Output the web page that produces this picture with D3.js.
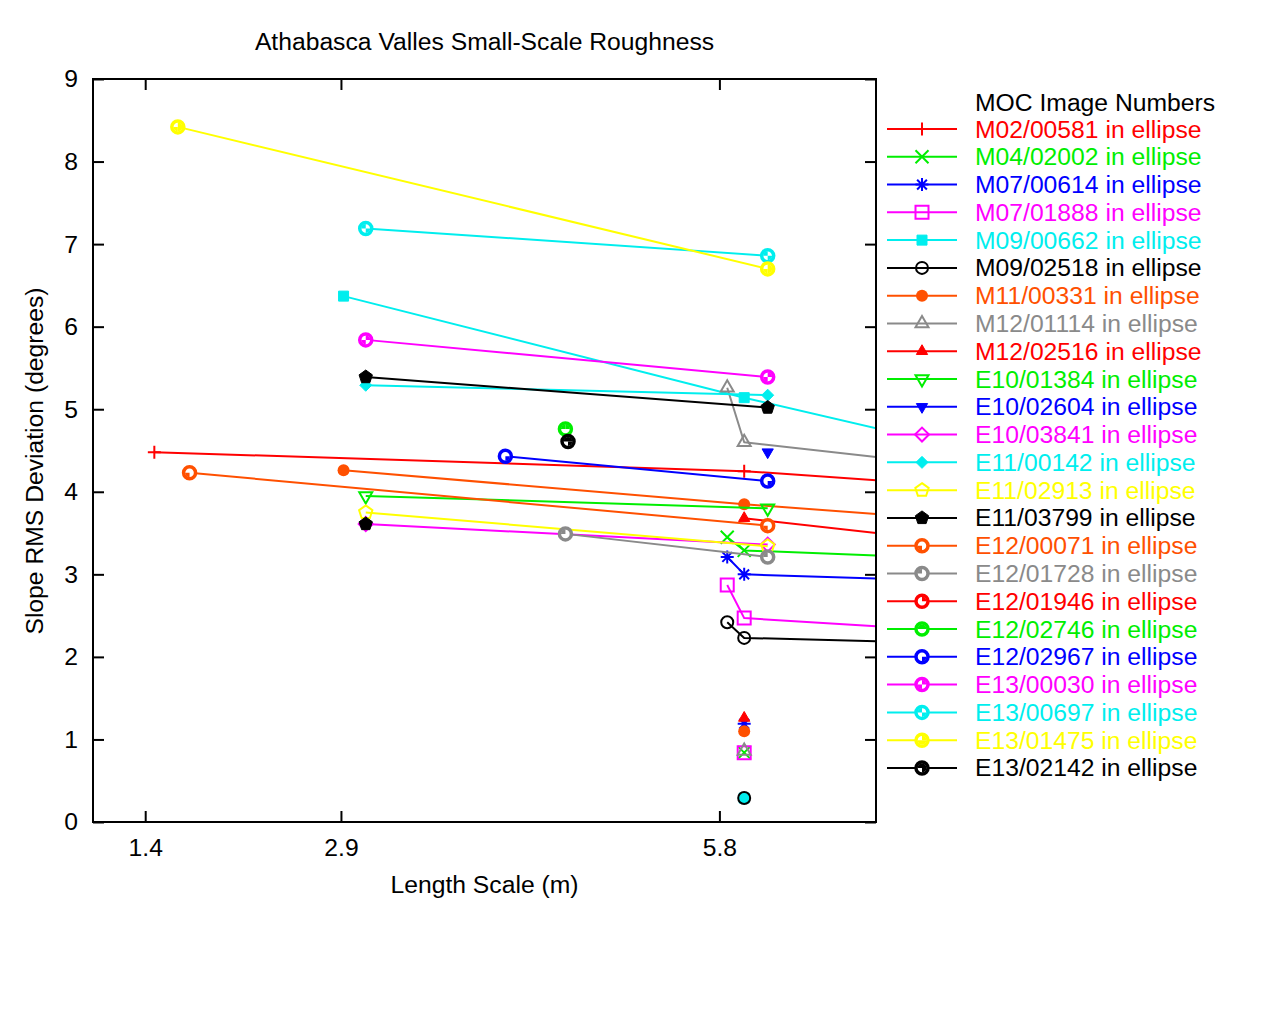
<!DOCTYPE html>
<html><head><meta charset="utf-8">
<script src="https://cdn.jsdelivr.net/npm/d3@7"></script>
<style>body{margin:0;background:#fff} text{font-family:"Liberation Sans",Arial,Helvetica,sans-serif}</style>
</head><body><svg id="c" width="1280" height="1024"></svg>
<script>
// ---------------- data ----------------
const chartTitle = "Athabasca Valles Small-Scale Roughness";
const xLabel = "Length Scale (m)";
const yLabel = "Slope RMS Deviation (degrees)";
const keyTitle = "MOC Image Numbers";
const xTicks = [1.4, 2.9, 5.8];
const yTicks = [0, 1, 2, 3, 4, 5, 6, 7, 8, 9];
const xDomain = [1, 7];
const yDomain = [0, 9];

const seriesNames = [
  "M02/00581","M04/02002","M07/00614","M07/01888","M09/00662","M09/02518",
  "M11/00331","M12/01114","M12/02516","E10/01384","E10/02604","E10/03841",
  "E11/00142","E11/02913","E11/03799","E12/00071","E12/01728","E12/01946",
  "E12/02746","E12/02967","E13/00030","E13/00697","E13/01475","E13/02142"
];
// [length scale, RMS deviation]; null = break in the line
const M02_00581 = [[1.47,4.48],[5.99,4.25],[12,3.60]];
const M04_02002 = [[5.99,0.84],null,[5.86,3.45],[5.99,3.29],[12,2.93]];
const M07_00614 = [[5.99,1.19],null,[5.86,3.21],[5.99,3.00],[12,2.70]];
const M07_01888 = [[5.99,0.84],null,[5.86,2.87],[5.99,2.47],[12,1.88]];
const M09_00662 = [[5.99,0.29],null,[2.92,6.37],[5.99,5.14],[12,2.94]];
const M09_02518 = [[5.99,0.29],null,[5.86,2.42],[5.99,2.23],[12,1.99]];
const M11_00331 = [[5.99,1.10],null,[2.92,4.26],[5.99,3.85],[12,3.14]];
const M12_01114 = [[5.99,0.86],null,[5.86,5.26],[5.99,4.60],[12,3.53]];
const M12_02516 = [[5.99,1.26],null,[5.99,3.68],[12,2.61]];
const E10_01384 = [[3.09,3.95],[6.17,3.80]];
const E10_02604 = [[6.17,4.48]];
const E10_03841 = [[3.09,3.61],[6.17,3.36]];
const E11_00142 = [[3.09,5.29],[6.17,5.17]];
const E11_02913 = [[3.09,3.75],[6.17,3.34]];
const E11_03799 = [[3.09,3.61],null,[3.09,5.39],[6.17,5.02]];
const E12_00071 = [[1.74,4.23],[6.17,3.59]];
const E12_01728 = [[4.62,3.49],[6.17,3.21]];
const E12_01946 = [];
const E12_02746 = [[4.62,4.76]];
const E12_02967 = [[4.16,4.43],[6.17,4.13]];
const E13_00030 = [[3.09,5.84],[6.17,5.39]];
const E13_00697 = [[3.09,7.19],[6.17,6.86]];
const E13_01475 = [[1.65,8.42],[6.17,6.70]];
const E13_02142 = [[4.64,4.61]];

const seriesValues = [M02_00581,M04_02002,M07_00614,M07_01888,M09_00662,M09_02518,
  M11_00331,M12_01114,M12_02516,E10_01384,E10_02604,E10_03841,E11_00142,E11_02913,
  E11_03799,E12_00071,E12_01728,E12_01946,E12_02746,E12_02967,E13_00030,E13_00697,
  E13_01475,E13_02142];

// ---------------- style ----------------
const RED="#ff0000", GRN="#00ee00", BLU="#0000ff", MAG="#ff00ff", CYN="#00eeee",
      YEL="#ffff00", BLK="#000000", ORG="#ff5000", GRY="#8a8a8a";
const seriesColors = [RED,GRN,BLU,MAG,CYN,BLK,ORG,GRY,RED,GRN,BLU,MAG,CYN,YEL,BLK,ORG,GRY,RED,GRN,BLU,MAG,CYN,YEL,BLK];
const seriesMarkers = d3.range(1, 25);
const ringMasks = {16:[0,0,1,0],17:[0,0,0,1],18:[1,0,0,0],19:[1,0,0,1],20:[0,1,0,0],
                   21:[1,0,1,0],22:[0,1,0,1],23:[1,1,1,0],24:[1,1,0,1]};

const W = 1280, H = 1024;
const plot = {left: 93, right: 876, top: 79, bottom: 822};
const FS = 24.7;

const svg = d3.select("#c");
svg.append("rect").attr("width", W).attr("height", H).attr("fill", "#fff");

const x = d3.scaleLinear().domain(xDomain).range([plot.left, plot.right]);
const y = d3.scaleLinear().domain(yDomain).range([plot.bottom, plot.top]);

svg.append("defs").append("clipPath").attr("id", "clip")
  .append("rect").attr("x", plot.left).attr("y", plot.top)
  .attr("width", plot.right - plot.left).attr("height", plot.bottom - plot.top);

function marker(g, t, c, cx, cy) {
  const s = 6.5;
  const sg = g.append("g").attr("transform", `translate(${cx},${cy})`);
  const line = (d) => sg.append("path").attr("d", d).attr("fill", "none").attr("stroke", c).attr("stroke-width", 2);
  const fill = (d) => sg.append("path").attr("d", d).attr("fill", c).attr("stroke", c).attr("stroke-width", 1);
  const poly = (n, r, rot) => "M" + d3.range(n).map(i => {
      const a = rot + i * 2 * Math.PI / n;
      return [r * Math.cos(a), r * Math.sin(a)].join(",");
    }).join("L") + "Z";
  switch (t) {
    case 1: line(`M${-s},0H${s}M0,${-s}V${s}`); break;
    case 2: line(`M${-s},${-s}L${s},${s}M${-s},${s}L${s},${-s}`); break;
    case 3: line(`M${-s},0H${s}M0,${-s}V${s}M${-s*0.75},${-s*0.75}L${s*0.75},${s*0.75}M${-s*0.75},${s*0.75}L${s*0.75},${-s*0.75}`); break;
    case 4: line(`M${-s},${-s}H${s}V${s}H${-s}Z`); break;
    case 5: fill(`M-5,-5H5V5H-5Z`); break;
    case 6: sg.append("circle").attr("r", 6).attr("fill", "none").attr("stroke", c).attr("stroke-width", 2); break;
    case 7: sg.append("circle").attr("r", 6).attr("fill", c); break;
    case 8: line(poly(3, 7.5, -Math.PI / 2)); break;
    case 9: fill(poly(3, 6.5, -Math.PI / 2)); break;
    case 10: line(poly(3, 7.5, Math.PI / 2)); break;
    case 11: fill(poly(3, 6.5, Math.PI / 2)); break;
    case 12: line(poly(4, 7, 0)); break;
    case 13: fill(poly(4, 6, 0)); break;
    case 14: line(poly(5, 7, -Math.PI / 2)); break;
    case 15: fill(poly(5, 7, -Math.PI / 2)); break;
    default: {
      sg.append("circle").attr("r", 6).attr("fill", "#fff").attr("stroke", c).attr("stroke-width", 3.5);
      const m = ringMasks[t] || [1, 0, 0, 0];
      const arc = d3.arc().innerRadius(0).outerRadius(4.5);
      m.forEach((on, q) => {
        if (on) sg.append("path").attr("d", arc({startAngle: q * Math.PI / 2, endAngle: (q + 1) * Math.PI / 2})).attr("fill", c);
      });
    }
  }
}

// ---------------- data layer ----------------
const dataG = svg.append("g").attr("clip-path", "url(#clip)");
const lineGen = d3.line().defined(d => d !== null).x(d => x(d[0])).y(d => y(d[1]));
seriesValues.forEach((vals, i) => {
  const c = seriesColors[i];
  if (vals.length > 1) {
    dataG.append("path").attr("d", lineGen(vals)).attr("fill", "none")
      .attr("stroke", c).attr("stroke-width", 2).attr("stroke-linejoin", "round");
  }
  vals.filter(d => d !== null).forEach(d => marker(dataG, seriesMarkers[i], c, x(d[0]), y(d[1])));
});

// ---------------- axes ----------------
function styleAxis(sel) {
  sel.select(".domain").remove();
  sel.selectAll(".tick line").attr("stroke", "#000").attr("stroke-width", 2);
  sel.selectAll(".tick text").attr("fill", "#000").style("font-size", FS + "px")
     .style("font-family", '"Liberation Sans",Arial,Helvetica,sans-serif');
}
svg.append("g").attr("transform", `translate(0,${plot.bottom})`)
  .call(d3.axisBottom(x).tickValues(xTicks).tickSize(-11).tickPadding(16).tickFormat(d3.format(".1f"))).call(styleAxis);
svg.append("g").attr("transform", `translate(0,${plot.top})`)
  .call(d3.axisTop(x).tickValues(xTicks).tickSize(-11).tickFormat("")).call(styleAxis);
svg.append("g").attr("transform", `translate(${plot.left},0)`)
  .call(d3.axisLeft(y).tickValues(yTicks).tickSize(-11).tickPadding(15).tickFormat(d3.format("d"))).call(styleAxis);
svg.append("g").attr("transform", `translate(${plot.right},0)`)
  .call(d3.axisRight(y).tickValues(yTicks).tickSize(-11).tickFormat("")).call(styleAxis);

svg.append("rect").attr("x", plot.left).attr("y", plot.top)
  .attr("width", plot.right - plot.left).attr("height", plot.bottom - plot.top)
  .attr("fill", "none").attr("stroke", "#000").attr("stroke-width", 2);

// ---------------- texts ----------------
svg.append("text").attr("x", (plot.left + plot.right) / 2).attr("y", 50)
  .attr("text-anchor", "middle").style("font-size", FS + "px").text(chartTitle);
svg.append("text").attr("x", (plot.left + plot.right) / 2).attr("y", 893)
  .attr("text-anchor", "middle").style("font-size", FS + "px").text(xLabel);
svg.append("text").attr("transform", "translate(43,461) rotate(-90)")
  .attr("text-anchor", "middle").style("font-size", FS + "px").text(yLabel);

// ---------------- legend ----------------
const key = svg.append("g");
key.append("text").attr("x", 975).attr("y", 111).style("font-size", FS + "px").attr("fill", "#000").text(keyTitle);
seriesNames.forEach((n, i) => {
  const cy = 129 + i * 27.78;
  const c = seriesColors[i];
  key.append("line").attr("x1", 887).attr("x2", 957).attr("y1", cy).attr("y2", cy)
    .attr("stroke", c).attr("stroke-width", 2);
  marker(key, seriesMarkers[i], c, 922, cy);
  key.append("text").attr("x", 975).attr("y", cy + 8.5).style("font-size", FS + "px")
    .attr("fill", c).text(n + " in ellipse");
});
</script></body></html>
